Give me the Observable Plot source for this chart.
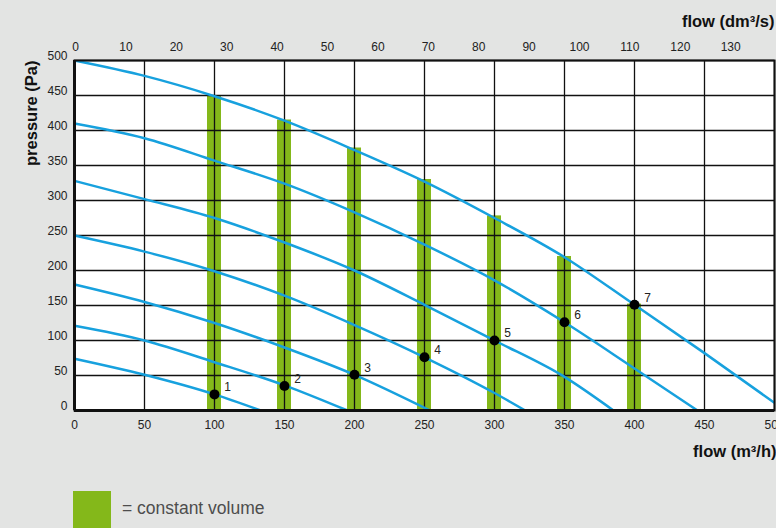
<!DOCTYPE html>
<html><head><meta charset="utf-8">
<script src="https://cdn.jsdelivr.net/npm/d3@7"></script>
<script src="https://cdn.jsdelivr.net/npm/@observablehq/plot@0.6"></script>
<style>
html,body{margin:0;padding:0;background:#e3e4e3;overflow:hidden;width:776px;height:528px}
#chart svg{display:block}
.legend{position:absolute;left:73px;top:491px;display:flex;align-items:center;font-family:"Liberation Sans",Arial,sans-serif;font-size:17.5px;color:#4d4d4d}
.legend .sw{width:38px;height:38px;background:#84b81a;margin-right:11px}
.legend span{position:relative;top:-2px}
</style></head><body>
<div id="chart"></div>
<div class="legend"><div class="sw"></div><span>= constant volume</span></div>
<script>
const flowTicksM3h = [0,50,100,150,200,250,300,350,400,450,500];
const flowTicksDm3s = [0,10,20,30,40,50,60,70,80,90,100,110,120,130];
const pressureTicks = [0,50,100,150,200,250,300,350,400,450,500];

const curve1 = [[0,500],[50,478],[100,449],[150,414],[200,372],[250,327],[300,275],[350,219],[400,151],[450,82],[500,11]];
const curve2 = [[0,410],[50,389],[100,357],[150,324],[200,283],[250,237],[300,186],[350,126],[400,60],[445,0]];
const curve3 = [[0,328],[50,302],[100,275],[150,240],[200,200],[250,151],[300,100],[350,48],[385,0]];
const curve4 = [[0,250],[50,227],[100,199],[150,164],[200,122],[250,76],[300,25],[322,0]];
const curve5 = [[0,180],[50,155],[100,125],[150,90],[200,51],[254,0]];
const curve6 = [[0,121],[50,100],[100,69],[150,36],[195,0]];
const curve7 = [[0,74],[50,51],[100,23],[133,0]];

const constantFlows = [100,150,200,250,300,350,400];
const barTops = [450,415,375,330,278,220,152];
const pointPressures = [23,35,51,76,100,126,151];
const pointLabels = ["1","2","3","4","5","6","7"];

const curves = [curve1,curve2,curve3,curve4,curve5,curve6,curve7]
  .flatMap((c,i)=>c.map(([q,p])=>({q,p,id:i+1})));
const bars = constantFlows.map((q,i)=>({q, top: barTops[i]}));
const pts = constantFlows.map((q,i)=>({q, p: pointPressures[i], label: pointLabels[i]}));

const titleStyle = {fontWeight: "bold", fontSize: 16.5, fill: "#111", style: "letter-spacing:0.6px"};

const chart = Plot.plot({
  width: 776, height: 470,
  marginTop: 60, marginLeft: 74, marginRight: 2, marginBottom: 60,
  style: {fontFamily: '"Liberation Sans", Arial, sans-serif', fontSize: "12px", color: "#222", background: "transparent", overflow: "visible"},
  x: {domain: [0,500]},
  y: {domain: [0,500]},
  marks: [
    Plot.frame({fill: "white", stroke: null}),
    Plot.rect(bars, {x1: d=>d.q-5, x2: d=>d.q+5, y1: 0, y2: "top", fill: "#84b81a"}),
    Plot.gridX(flowTicksM3h, {stroke: "#111", strokeOpacity: 1, strokeWidth: 1.3}),
    Plot.gridY(pressureTicks, {stroke: "#111", strokeOpacity: 1, strokeWidth: 1.3}),
    Plot.line(curves, {x: "q", y: "p", z: "id", stroke: "#17a1de", strokeWidth: 2.5, curve: "monotone-x", clip: true}),
    Plot.frame({stroke: "#111", strokeWidth: 2}),
    Plot.ruleX([0], {stroke: "#111", strokeWidth: 3}),
    Plot.ruleY([0], {stroke: "#111", strokeWidth: 3}),
    Plot.dot(pts, {x: "q", y: "p", r: 5, fill: "black"}),
    Plot.text(pts, {x: "q", y: "p", text: "label", dx: 13, dy: -7, fontSize: 12, fill: "#222"}),
    Plot.axisX(flowTicksM3h, {anchor: "bottom", tickSize: 0, tickPadding: 10, label: null}),
    Plot.axisX(flowTicksDm3s.map(v=>v*3.6), {anchor: "top", tickSize: 0, tickPadding: 10, dx: 1, tickFormat: d=>String(Math.round(d/3.6)), label: null}),
    Plot.axisY(pressureTicks, {anchor: "left", tickSize: 0, tickPadding: 7, dy: -4, label: null}),
    Plot.text(["flow (dm³/s)"], {frameAnchor: "top-right", dy: -45, textAnchor: "end", ...titleStyle}),
    Plot.text(["flow (m³/h)"], {frameAnchor: "bottom-right", dy: 46, dx: 2, textAnchor: "end", ...titleStyle}),
    Plot.text(["pressure (Pa)"], {frameAnchor: "top-left", dx: -49, dy: 0, textAnchor: "end", rotate: -90, ...titleStyle})
  ]
});
document.getElementById("chart").appendChild(chart);
</script></body></html>
